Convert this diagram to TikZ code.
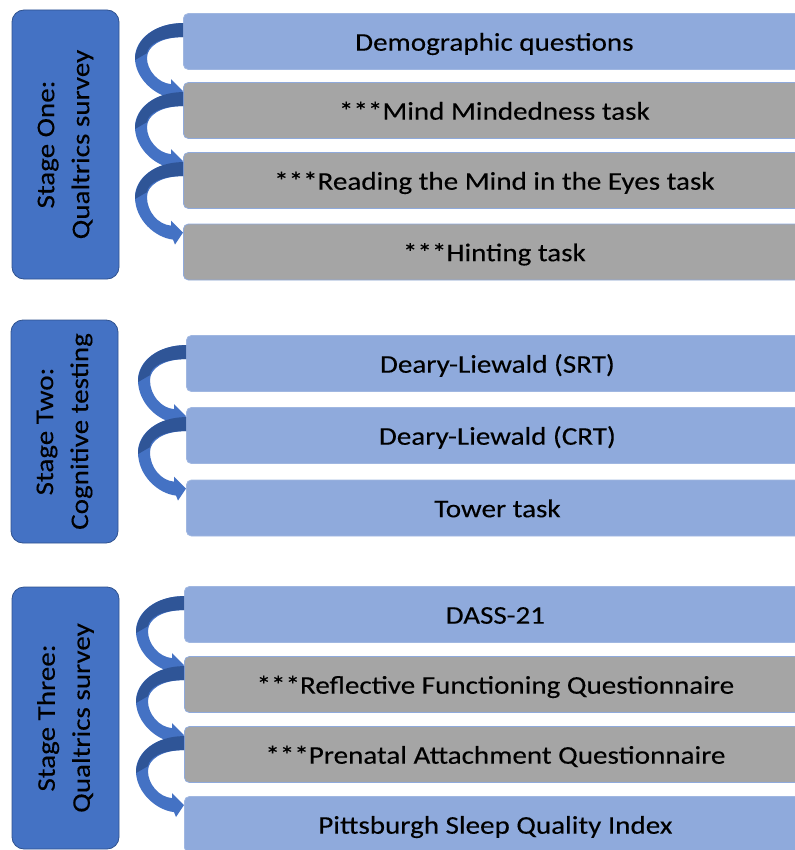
\documentclass[tikz,border=0pt]{standalone}
\usepackage{fontspec}
\setmainfont{Carlito}[FakeStretch=1.14,FakeBold=0.2]
\usepackage{tikz}
\usetikzlibrary{calc}
\definecolor{stageblue}{HTML}{4472C4}
\definecolor{stageedge}{HTML}{2F528F}
\definecolor{tasklight}{HTML}{8FAADC}
\definecolor{taskgray}{HTML}{A5A5A5}
\definecolor{arrowdark}{HTML}{2F5597}
\tikzset{
	stage/.style={draw=stageedge, fill=stageblue, line width=0.8pt, rounded corners=12pt,
		rotate=90, align=center, minimum height=107pt, inner sep=0pt,
		font=\fontsize{25.5}{35}\selectfont},
	task/.style={anchor=west, minimum width=622pt, minimum height=56pt, rounded corners=5pt,
		line width=0.8pt, inner sep=0pt, text height=22pt, text depth=3.6pt,
		font=\fontsize{25.5}{30}\selectfont},
	lighttask/.style={task, fill=tasklight, draw=tasklight!85!white},
	graytask/.style={task, fill=taskgray, draw=tasklight},
}
% curved arrow from the left side of one task box to the next
\newcommand{\flowarrow}[2]{%
	\fill[stageblue] ($(#1.north west)+(0,10)$)
	.. controls ($(#1.north west)+(-28,10)$) and ($(#1.north west)+(-48,26)$) .. ($(#1.north west)+(-48,45)$)
	.. controls ($(#2.north west)+(-48,-4)$) and ($(#2.north west)+(-28,14)$) .. ($(#2.north west)+(-10,16)$)
	-- ($(#2.north west)+(-8,21)$) -- ($(#2.north west)+(0,9)$) -- ($(#2.north west)+(-12,-3)$)
	-- ($(#2.north west)+(-12,2)$)
	.. controls ($(#2.north west)+(-25,1)$) and ($(#2.north west)+(-36,-12)$) .. ($(#1.north west)+(-36,45)$)
	.. controls ($(#1.north west)+(-36,33)$) and ($(#1.north west)+(-22,24)$) .. ($(#1.north west)+(0,24)$)
	-- cycle;
	\fill[arrowdark] ($(#1.north west)+(0,10)$)
	.. controls ($(#1.north west)+(-28,10)$) and ($(#1.north west)+(-48,26)$) .. ($(#1.north west)+(-48,47)$)
	-- ($(#1.north west)+(-36,40)$)
	.. controls ($(#1.north west)+(-35,31)$) and ($(#1.north west)+(-22,24)$) .. ($(#1.north west)+(0,24)$)
	-- cycle;
}

\begin{document}
\begin{tikzpicture}[x=1pt,y=-1pt]
	\useasboundingbox (0,0) rectangle (794,850);
	% stage one
	\node[stage, minimum width=269pt] at (65.5,144.5) (s1) {Stage One:\\Qualtrics survey};
	\node[lighttask] at (183,41.5) (demo) {Demographic questions};
	\node[graytask] at (183,110.5) (mind) {***Mind Mindedness task};
	\node[graytask] at (183,180.5) (eyes) {***Reading the Mind in the Eyes task};
	\node[graytask] at (183,252) (hint) {***Hinting task};
	\flowarrow{demo}{mind}
	\flowarrow{mind}{eyes}
	\flowarrow{eyes}{hint}
	% stage two
	\node[stage, minimum width=223pt] at (64.5,431.5) (s2) {Stage Two:\\Cognitive testing};
	\node[lighttask] at (186,363.5) (srt) {Deary-Liewald (SRT)};
	\node[lighttask] at (186,435.5) (crt) {Deary-Liewald (CRT)};
	\node[lighttask] at (186,508) (tower) {Tower task};
	\flowarrow{srt}{crt}
	\flowarrow{crt}{tower}
	% stage three
	\node[stage, minimum width=262pt] at (65.5,718) (s3) {Stage Three:\\Qualtrics survey};
	\node[lighttask] at (184,614.5) (dass) {DASS-21};
	\node[graytask] at (184,684.5) (rfq) {***Reflective Functioning Questionnaire};
	\node[graytask] at (184,754.5) (paq) {***Prenatal Attachment Questionnaire};
	\node[lighttask] at (184,824.5) (psqi) {Pittsburgh Sleep Quality Index};
	\flowarrow{dass}{rfq}
	\flowarrow{rfq}{paq}
	\flowarrow{paq}{psqi}
\end{tikzpicture}
\end{document}
